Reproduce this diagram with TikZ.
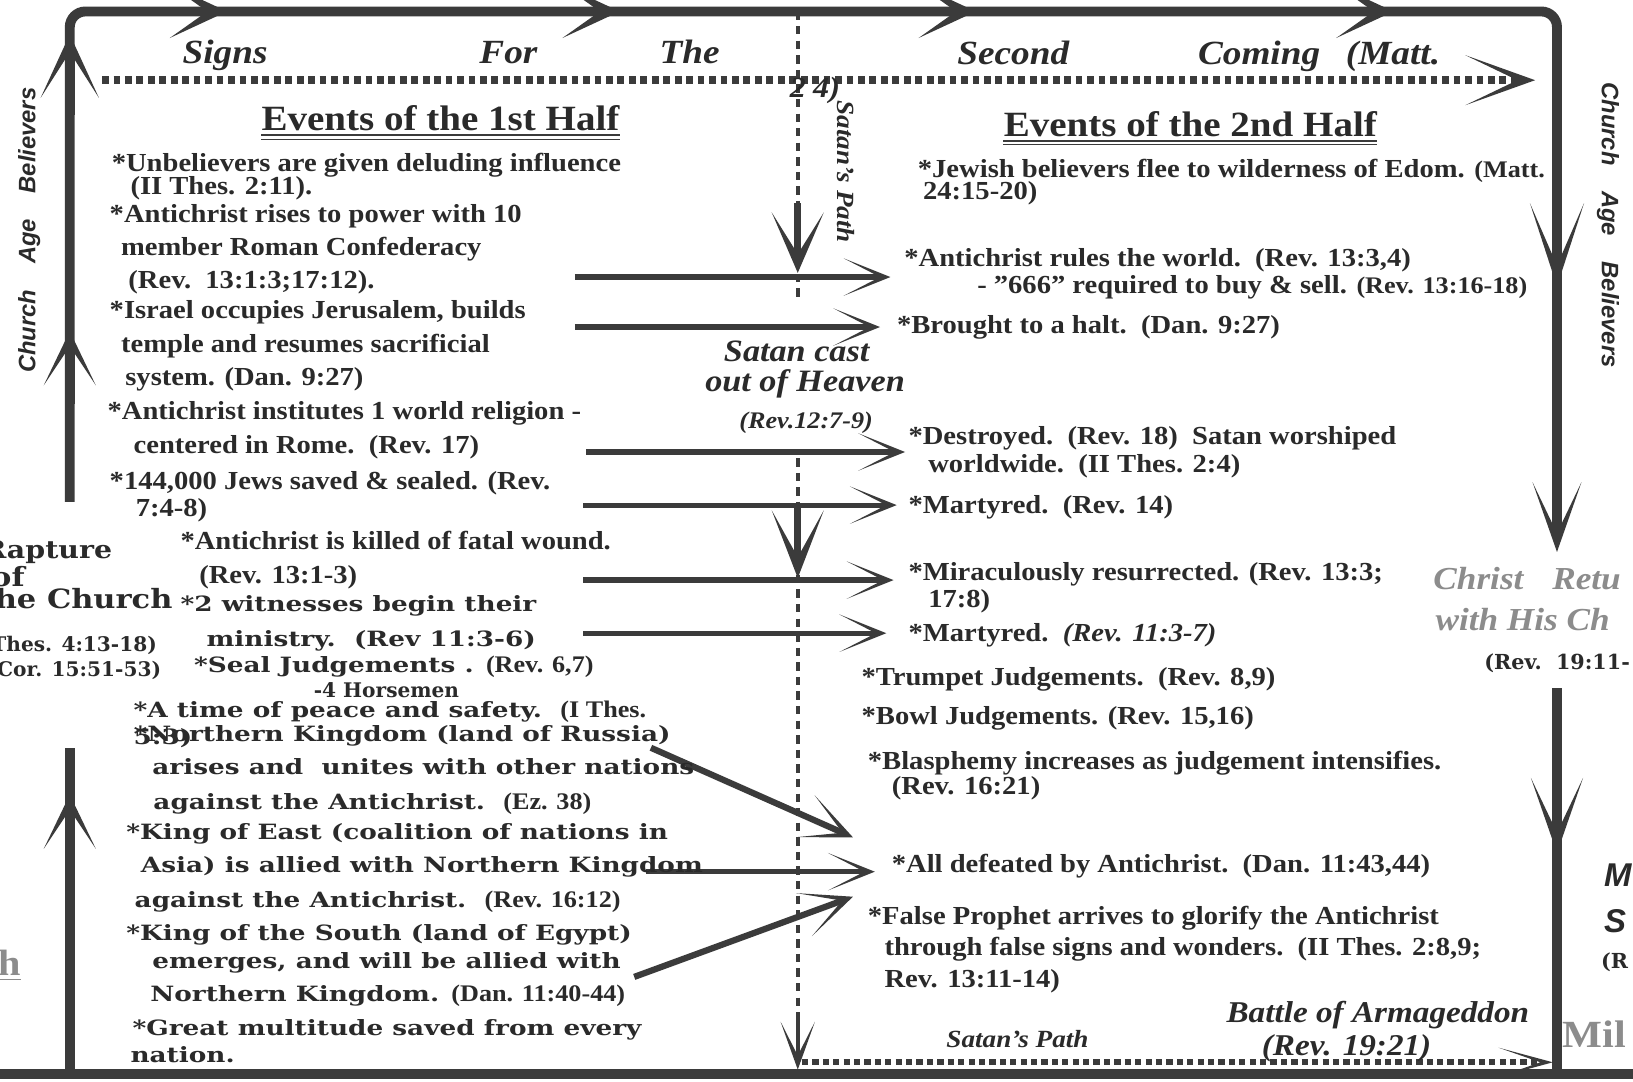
\documentclass[tikz,border=0pt]{standalone}
\usepackage{fontspec}
\setmainfont{Liberation Serif}[FakeStretch=1.1]
\newfontfamily\slabfont{DejaVu Serif}[FakeStretch=1.25]
\newfontfamily\slabwide{DejaVu Serif}[FakeStretch=1.15]
\newfontfamily\slabplain{DejaVu Serif}
\newfontfamily\signfont{Liberation Sans}
\usetikzlibrary{arrows.meta}

\definecolor{ink}{HTML}{2A2A2A}
\definecolor{rule}{HTML}{3B3B3B}
\definecolor{ghost}{HTML}{8C8C8C}

\newcommand{\sref}[1]{{\rmfamily\fontsize{13pt}{15pt}\selectfont #1}}

\tikzset{
  ln/.style={anchor=base west, inner sep=0pt, text=ink,
    font=\bfseries\fontsize{14.2pt}{16pt}\selectfont},
  wd/.style={anchor=base west, inner sep=0pt, text=ink,
    font=\slabfont\bfseries\fontsize{11.5pt}{13pt}\selectfont},
  rap/.style={anchor=base east, inner sep=0pt, text=ink,
    font=\slabwide\bfseries\fontsize{#1}{#1}\selectfont},
  rapref/.style={anchor=base east, inner sep=0pt, text=ink,
    font=\slabplain\bfseries\fontsize{11pt}{13pt}\selectfont},
  hd/.style={anchor=base, inner sep=0pt, text=ink,
    font=\bfseries\fontsize{19.4pt}{22pt}\selectfont},
  sg/.style={anchor=base west, inner sep=0pt, text=ink,
    font=\bfseries\itshape\fontsize{18.5pt}{21pt}\selectfont},
  bi/.style={anchor=base, inner sep=0pt, text=ink,
    font=\bfseries\itshape\fontsize{#1}{#1}\selectfont},
  sidetext/.style={inner sep=0pt, text=ink,
    font=\signfont\bfseries\itshape\fontsize{13pt}{15pt}\selectfont},
  ghosty/.style={anchor=base west, inner sep=0pt, text=ghost,
    font=\bfseries\itshape\fontsize{17.5pt}{20pt}\selectfont},
  rim/.style={draw=rule, line width=0.19cm},
  barbs/.style n args={3}{-{Stealth[length=#1, width=#2, inset=#3, line width=0pt]}},
  arrowline/.style={draw=rule, line width=0.1cm},
  satan/.style={draw=rule, line width=0.08cm, dash pattern=on 0.16cm off 0.12cm},
  dotline/.style={draw=rule, line width=0.16cm, dash pattern=on 0.13cm off 0.09cm},
}

\begin{document}
\begin{tikzpicture}[x=0.02cm, y=-0.02cm]
    \useasboundingbox (0,0) rectangle (1568,1038);
    \fill[white] (0,0) rectangle (1568,1038);
    \clip (0,0) rectangle (1568,1038);

    % outer path of the church age
    \draw[rim, rounded corners=0.3cm] (67,482) |- (1495,11) -- (1495,505);
    \draw[rim] (1495,661) -- (1495,1031);
    \draw[rim] (67,1031) -- (67,718);
    \draw[rim] (0,1031) -- (1568,1031);

    \foreach \x in {218,595,937,1338}
        \draw[rim, barbs={1.1cm}{1.02cm}{0.72cm}] (\x-70,11) -- (\x,11);
    \draw[rim, barbs={1.22cm}{1.12cm}{0.88cm}] (67,110) -- (67,33);
    \foreach \y in {318,763}
        \draw[rim, barbs={1.04cm}{1cm}{0.75cm}] (67,\y+70) -- (67,\y);
    \draw[rim, barbs={1.6cm}{1.04cm}{1.2cm}] (1495,180) -- (1495,275);
    \draw[rim, barbs={1.34cm}{0.94cm}{0.98cm}] (1495,440) -- (1495,530);
    \draw[rim, barbs={1.44cm}{1cm}{1.05cm}] (1495,720) -- (1495,819);

    % satan's path
    \draw[satan] (766,11) -- (766,290);
    \draw[satan] (766,440) -- (766,1031);
    \draw[rule, line width=0.14cm, barbs={1.16cm}{1cm}{0.8cm}] (766,195) -- (766,262);
    \draw[rule, line width=0.14cm, barbs={1.3cm}{1cm}{0.9cm}] (766,485) -- (766,555);
    \draw[rule, line width=0.08cm, barbs={0.92cm}{0.66cm}{0.65cm}] (766,975) -- (766,1027);

    \draw[dotline, barbs={1.34cm}{0.96cm}{1cm}] (98,77) -- (1474,77);
    \draw[dotline, line width=0.11cm, dash pattern=on 0.12cm off 0.08cm,
        barbs={1.04cm}{0.56cm}{0.8cm}] (770,1020) -- (1491,1020);

    % links between the halves
    \foreach \i/\xa/\ya/\xb/\yb in {1/552/266/855/266, 2/552/314/845/314,
        3/563/434/869/434, 4/560/485/861/485, 5/560/557/858/557,
        6/560/608/851/608, 8/620/837/840/837} {
        \coordinate (s\i) at (\xa,\ya);
        \coordinate (e\i) at (\xb,\yb);
        \draw[arrowline, barbs={0.9cm}{0.72cm}{0.7cm}] (s\i) -- (e\i);
    }
    \coordinate (s7) at (625,718);
    \coordinate (e7) at (819,804);
    \coordinate (s9) at (609,938);
    \coordinate (e9) at (819,861);
    \foreach \i in {7,9}
        \draw[arrowline, line width=0.12cm, barbs={1cm}{0.88cm}{0.78cm}] (s\i) -- (e\i);

    % headings
    \node[sg] (w1) at (175,61) {Signs};
    \node[sg] (w2) at (460,61) {For};
    \node[sg] (w3) at (633,61) {The};
    \node[sg] (w4) at (919,62) {Second};
    \node[sg] (w5) at (1150,62) {Coming};
    \node[sg] (w6) at (1292,62) {(Matt.};
    \node[bi=16pt, anchor=base west] (w7) at (758,94) {2\hspace{4pt}4)};

    \node[hd] (h1) at (423,125.6) {Events of the 1st Half};
    \node[hd] (h2) at (1143,131) {Events of the 2nd Half};
    \foreach \h in {h1,h2} {
        \draw[rule, line width=0.05cm] ([yshift=-2pt]\h.south west) -- ([yshift=-2pt]\h.south east);
        \draw[rule, line width=0.02cm] ([yshift=-4.2pt]\h.south west) -- ([yshift=-4.2pt]\h.south east);
    }

    % first half
    \foreach \x/\y/\txt [count=\i] in {107/165/{*Unbelievers are given deluding influence},
        125/187/{(II Thes. 2:11).},
        105/214/{*Antichrist rises to power with 10},
        116/245/{member Roman Confederacy},
        123/277/{(Rev.\ \ 13:1:3;17:12).},
        105/306/{*Israel occupies Jerusalem, builds},
        116/338/{temple and resumes sacrificial},
        120/370/{system. (Dan. 9:27)},
        103/403/{*Antichrist institutes 1 world religion -},
        128/435/{centered in Rome.\ \ (Rev. 17)},
        105/470/{*144,000 Jews saved \& sealed. (Rev.},
        130/496/{7:4-8)},
        173/528/{*Antichrist is killed of fatal wound.},
        191/560/{(Rev. 13:1-3)}}
        \node[ln] (a\i) at (\x,\y) {\txt};

    \foreach \x/\y/\txt [count=\i] in {173/587/{*2 witnesses begin their},
        198/621/{ministry.\ \ (Rev 11:3-6)},
        186/646/{*Seal Judgements . \sref{(Rev. 6,7)}},
        128/689/{*A time of peace and safety.\ \ \sref{(I Thes.}},
        128/715/{5:3)},
        128/712/{*Northern Kingdom (land of Russia)},
        146/744/{arises and\ \ unites with other nations},
        147/777/{against the Antichrist.\ \ \sref{(Ez. 38)}},
        121/806/{*King of East (coalition of nations in},
        135/838/{Asia) is allied with Northern Kingdom},
        129/871/{against the Antichrist.\ \ \sref{(Rev. 16:12)}},
        121/903/{*King of the South (land of Egypt)},
        146/930/{emerges, and will be allied with},
        144/962/{Northern Kingdom. \sref{(Dan. 11:40-44)}},
        127/994/{*Great multitude saved from every},
        125/1020/{nation.}}
        \node[wd] (b\i) at (\x,\y) {\txt};
    \node[wd, font=\slabplain\bfseries\fontsize{11pt}{12pt}\selectfont] (hm) at (301,670) {-4 Horsemen};

    % second half
    \foreach \x/\y/\txt [count=\i] in {881/170/{*Jewish believers flee to wilderness of Edom. \sref{(Matt.}},
        886/192/{24:15-20)},
        868/256/{*Antichrist rules the world.\ \ (Rev. 13:3,4)},
        938/282/{- "666" required to buy \& sell. \sref{(Rev. 13:16-18)}},
        861/320/{*Brought to a halt.\ \ (Dan. 9:27)},
        872/427/{*Destroyed.\ \ (Rev. 18)\ \ Satan worshiped},
        891/454/{worldwide.\ \ (II Thes. 2:4)},
        872/493/{*Martyred.\ \ (Rev. 14)},
        872/557/{*Miraculously resurrected. (Rev. 13:3;},
        891/583/{17:8)},
        872/616/{*Martyred.\ \ \textit{(Rev. 11:3-7)}},
        827/658/{*Trumpet Judgements.\ \ (Rev. 8,9)},
        827/696/{*Bowl Judgements. (Rev. 15,16)},
        833/739/{*Blasphemy increases as judgement intensifies.},
        856/763/{(Rev. 16:21)},
        856/838/{*All defeated by Antichrist.\ \ (Dan. 11:43,44)},
        833/888/{*False Prophet arrives to glorify the Antichrist},
        849/917/{through false signs and wonders.\ \ (II Thes. 2:8,9;},
        849/948/{Rev. 13:11-14)}}
        \node[ln] (c\i) at (\x,\y) {\txt};

    % satan
    \node[bi=17pt] (sc1) at (765,347) {Satan cast};
    \node[bi=17pt] (sc2) at (773,376) {out of Heaven};
    \node[bi=13pt] (sc3) at (774,411) {(Rev.12:7-9)};
    \node[bi=13.5pt, rotate=-90, anchor=center] (sp1) at (812,165) {Satan's Path};
    \node[bi=13.5pt] (sp2) at (977,1006) {Satan's Path};
    \node[bi=16.5pt] (ba1) at (1323,982) {Battle of Armageddon};
    \node[bi=16.5pt] (ba2) at (1293,1013) {(Rev. 19:21)};

    % sides
    \node[sidetext, rotate=90] (cl) at (28,221) {Church\hspace{14pt}Age\hspace{14pt}Believers};
    \node[sidetext, rotate=-90] (cr) at (1544,216) {Church\hspace{14pt}Age\hspace{14pt}Believers};

    \node[rap=13.5pt] (rp1) at (108,536) {Rapture};
    \node[rap=14.5pt] (rp2) at (24,563) {of};
    \node[rap=14.5pt] (rp3) at (166,584) {the Church};
    \node[rapref] (rp4) at (151,626) {(I Thes. 4:13-18)};
    \node[rapref] (rp5) at (155,650) {(I Cor. 15:51-53)};
    \node[ghosty, anchor=base east, font=\bfseries\fontsize{20pt}{22pt}\selectfont] (hh) at (20,937) {h};
    \draw[ghost, line width=0.03cm] ([yshift=-2pt]hh.base west) -- ([yshift=-2pt]hh.base east);

    \node[ghosty] (cr1) at (1376,566) {Christ\hspace{0.9em}Retu};
    \node[ghosty] (cr2) at (1378,605) {with His Ch};
    \node[wd, font=\slabplain\bfseries\fontsize{11.3pt}{13pt}\selectfont] (cr3) at (1425,643) {(Rev.\ \ 19:11-};
    \node[anchor=base west, inner sep=0pt, text=ink,
        font=\signfont\bfseries\itshape\fontsize{18pt}{20pt}\selectfont] (ms1) at (1540,851) {M};
    \node[anchor=base west, inner sep=0pt, text=ink,
        font=\signfont\bfseries\itshape\fontsize{18pt}{20pt}\selectfont] (ms2) at (1540,895) {S};
    \node[wd, font=\slabplain\bfseries\fontsize{11.3pt}{13pt}\selectfont] (ms3) at (1537,930) {(R};
    \node[ghosty, font=\bfseries\fontsize{21pt}{23pt}\selectfont] (ml) at (1500,1006) {Mil};
\end{tikzpicture}
\end{document}
